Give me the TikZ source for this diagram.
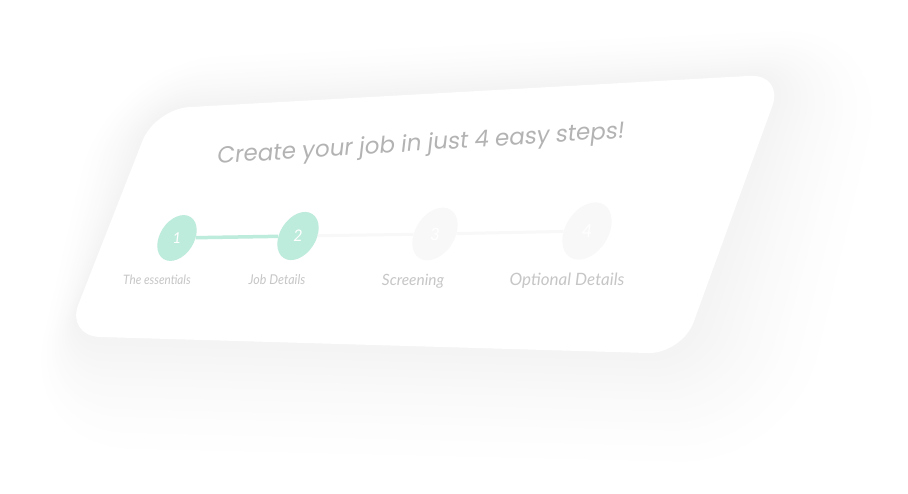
\documentclass[tikz,border=0pt]{standalone}
\usepackage{fontspec}
\setmainfont{Lato}
\newfontfamily\headfont{Poppins}[FakeSlant=0.18]
\usepackage{tikz}
\usetikzlibrary{calc, shapes.geometric, positioning}

\definecolor{mint}{HTML}{BDEBDC}
\definecolor{ghost}{HTML}{F8F8F8}
\definecolor{titlegray}{HTML}{B3B3B3}
\definecolor{labelgray}{HTML}{C6C6C6}

\tikzset{
	stepdot/.style={ellipse, rotate=57, inner sep=0pt, minimum width=#1*50pt, minimum height=#1*34pt},
	done/.style={fill=mint},
	todo/.style={fill=ghost},
	stepnum/.style={text=white, font=\itshape\fontsize{#1}{#1}\selectfont},
	steplabel/.style={text=labelgray, font=\itshape\fontsize{#1}{#1}\selectfont},
	donelink/.style={draw=mint, line width=3.5pt},
	todolink/.style={draw=ghost, line width=3pt},
}

\begin{document}
\begin{tikzpicture}[x=1pt, y=-1pt]

\useasboundingbox (0,0) rectangle (908,493);

% corners of the tilted card
\coordinate (TL) at (155,109);
\coordinate (TR) at (784,74);
\coordinate (BR) at (682,354);
\coordinate (BL) at (66,336);

% soft shadow, outer layers first
\foreach \i in {30,...,1}{
	\pgfmathsetmacro{\d}{\i*2.8}
	\pgfmathsetmacro{\s}{.4*\d}
	\pgfmathsetmacro{\rc}{34+\d}
	\pgfmathsetmacro{\k}{4.6*(1-\i/31)^1.4}
	\fill[black!\k, rounded corners=\rc pt]
		($(TL)!.5!(TR)+(\s,-\d+\s)$) -- ($(TR)+(\d+\s,-\d+\s)$) -- ($(BR)+(\d+\s,\d+\s)$)
		-- ($(BL)+(-\d+\s,\d+\s)$) -- ($(TL)+(-\d+\s,-\d+\s)$) -- cycle;
}

% the card itself
\fill[white, rounded corners=34pt] ($(TL)!.5!(TR)$) -- (TR) -- (BR) -- (BL) -- (TL) -- cycle;

% heading
\node[text=titlegray, rotate=3.6, font=\headfont\fontsize{23}{27}\selectfont] (title) at (420,145) {Create your job in just 4 easy steps!};

% step markers
\node[stepdot=1.00, done] (s1) at (177,238) {};
\node[stepdot=1.05, done] (s2) at (298,236) {};
\node[stepdot=1.15, todo] (s3) at (435,234) {};
\node[stepdot=1.25, todo] (s4) at (587,231) {};

% links between the steps
\draw[todolink] (s2) -- (s3);
\draw[todolink] (s3) -- (s4);
\draw[donelink] (s1) -- (s2);

% numbers
\node[stepnum=15] (n1) at (s1) {1};
\node[stepnum=16] (n2) at (s2) {2};
\node[stepnum=17] (n3) at (s3) {3};
\node[stepnum=18] (n4) at (s4) {4};

% step names
\node[steplabel=13, xscale=.9] (l1) at (157,280) {The essentials};
\node[steplabel=13.5, xscale=.92] (l2) at (277,280) {Job Details};
\node[steplabel=15.5] (l3) at (413,281) {Screening};
\node[steplabel=17] (l4) at (567,281) {Optional Details};

\end{tikzpicture}
\end{document}
